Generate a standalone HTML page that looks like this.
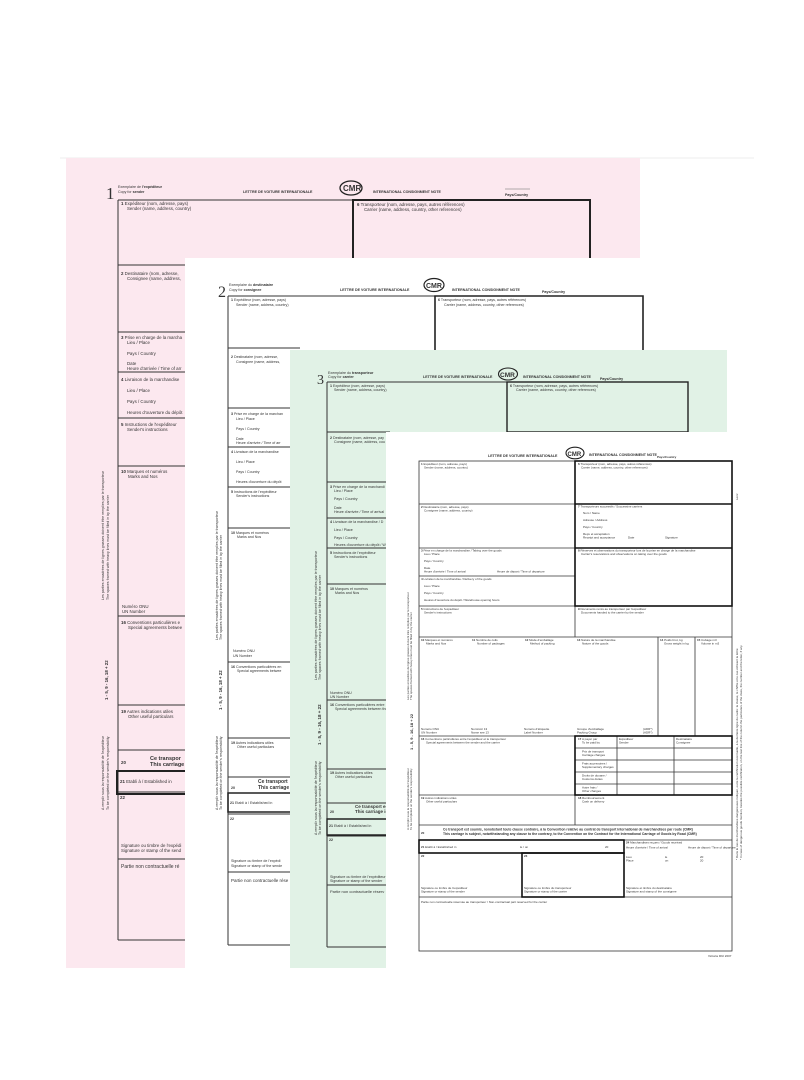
<!DOCTYPE html>
<html><head><meta charset="utf-8"><style>
html,body{margin:0;padding:0;background:#fff}
svg{display:block}
text{font-family:"Liberation Sans",sans-serif;fill:#333}
.s{font-size:3.6px}
.m{font-size:4.4px}
.b{font-weight:bold}
</style></head><body>
<svg width="804" height="1080" viewBox="0 0 804 1080" xmlns="http://www.w3.org/2000/svg">
<line x1="60" y1="158" x2="754" y2="158" stroke="#eeeeee" stroke-width="1"/>
<!-- SHEET 1 pink -->
<rect x="66" y="158" width="574" height="810" fill="#fce8ef"/>
<g stroke="#333" fill="none" stroke-width="1">
<line x1="118" y1="200" x2="118" y2="940"/>
<line x1="118" y1="200" x2="353" y2="200"/>
<line x1="118" y1="265" x2="200" y2="265"/>
<line x1="118" y1="332" x2="200" y2="332"/>
<line x1="118" y1="372" x2="200" y2="372"/>
<line x1="118" y1="418" x2="200" y2="418"/>
<line x1="118" y1="466" x2="200" y2="466"/>
<line x1="118" y1="616" x2="200" y2="616"/>
<line x1="118" y1="705" x2="200" y2="705"/>
<line x1="118" y1="750" x2="200" y2="750"/>
<line x1="118" y1="792" x2="200" y2="792"/>
<line x1="118" y1="859" x2="200" y2="859"/>
<line x1="118" y1="940" x2="200" y2="940"/>
</g>
<g stroke="#222" fill="none" stroke-width="2">
<polyline points="353,258 353,200 590,200 590,258"/>
<polyline points="200,771 117,771 117,794 200,794"/>
</g>
<text x="106" y="199" style="font-family:'Liberation Serif',serif;font-size:17px">1</text>
<text x="118" y="188" class="s">Exemplaire de <tspan class="b">l'expéditeur</tspan></text>
<text x="118" y="193" class="s">Copy for <tspan class="b">sender</tspan></text>
<text x="243" y="193" class="s b">LETTRE DE VOITURE INTERNATIONALE</text>
<ellipse cx="351" cy="188" rx="11" ry="7" fill="none" stroke="#222" stroke-width="1.3"/>
<text x="343" y="191" style="font-size:8px;font-weight:bold">CMR</text>
<text x="373" y="193" class="s b">INTERNATIONAL CONSIGNMENT NOTE</text>
<text x="505" y="196" class="s b">Pays/Country</text>
<line x1="505" y1="189" x2="530" y2="189" stroke="#666" stroke-width="0.5"/>
<text x="121" y="205" class="m"><tspan class="b">1</tspan> Expéditeur (nom, adresse, pays)</text><text x="127" y="210" class="m">Sender (name, address, country)</text>
<text x="357" y="206" class="m"><tspan class="b">6</tspan> Transporteur (nom, adresse, pays, autres références)</text><text x="364" y="211" class="m">Carrier (name, address, country, other references)</text>
<text x="121" y="275" class="m"><tspan class="b">2</tspan> Destinataire (nom, adresse,</text><text x="127" y="280" class="m">Consignee (name, address,</text>
<text x="121" y="339" class="m"><tspan class="b">3</tspan> Prise en charge de la marcha</text><text x="127" y="344" class="m">Lieu / Place</text>
<text x="127" y="355" class="m">Pays / Country</text><text x="127" y="365" class="m">Date</text><text x="127" y="370" class="m">Heure d'arrivée / Time of arr</text>
<text x="121" y="381" class="m"><tspan class="b">4</tspan> Livraison de la marchandise</text>
<text x="127" y="392" class="m">Lieu / Place</text><text x="127" y="403" class="m">Pays / Country</text><text x="127" y="414" class="m">Heures d'ouverture du dépôt</text>
<text x="121" y="426" class="m"><tspan class="b">5</tspan> Instructions de l'expéditeur</text><text x="127" y="431" class="m">Sender's instructions</text>
<text x="121" y="473" class="m"><tspan class="b">10</tspan> Marques et numéros</text><text x="128" y="478" class="m">Marks and Nos</text>
<text x="122" y="608" class="m">Numéro ONU</text><text x="122" y="613" class="m">UN Number</text>
<text x="121" y="624" class="m"><tspan class="b">16</tspan> Conventions particulières e</text><text x="128" y="629" class="m">Special agreements betwee</text>
<text x="121" y="713" class="m"><tspan class="b">19</tspan> Autres indications utiles</text><text x="128" y="718" class="m">Other useful particulars</text>
<text x="121" y="764" class="m b">20</text><text x="150" y="760" style="font-size:5.5px;font-weight:bold">Ce transpor</text><text x="150" y="766" style="font-size:5.5px;font-weight:bold">This carriage</text>
<text x="120" y="783" class="m"><tspan class="b">21</tspan> Etabli à / Established in</text>
<text x="120" y="799" class="m b">22</text>
<text x="121" y="847" class="m">Signature ou timbre de l'expédi</text><text x="121" y="852" class="m">Signature or stamp of the send</text>
<text x="121" y="868" style="font-size:5px">Partie non contractuelle ré</text>
<text transform="translate(108,700) rotate(-90)" class="m b">1 - 5, 9 - 16, 18 + 22</text>
<text transform="translate(104,810) rotate(-90)" class="s">A remplir sous la responsabilité de l'expéditeur</text>
<text transform="translate(109,810) rotate(-90)" class="s">To be completed on the sender's responsibility</text>
<text transform="translate(104,600) rotate(-90)" class="s">Les parties encadrées de lignes grasses doivent être remplies par le transporteur</text>
<text transform="translate(109,600) rotate(-90)" class="s">The spaces framed with heavy lines must be filled in by the carrier</text>

<!-- SHEET 2 white -->
<rect x="185" y="258" width="475" height="710" fill="#ffffff"/>
<g stroke="#333" fill="none" stroke-width="1">
<line x1="228" y1="296" x2="228" y2="945"/>
<line x1="228" y1="296" x2="435" y2="296"/>
<line x1="228" y1="348" x2="300" y2="348"/>
<line x1="228" y1="408" x2="300" y2="408"/>
<line x1="228" y1="447" x2="300" y2="447"/>
<line x1="228" y1="487" x2="300" y2="487"/>
<line x1="228" y1="528" x2="300" y2="528"/>
<line x1="228" y1="662" x2="300" y2="662"/>
<line x1="228" y1="738" x2="300" y2="738"/>
<line x1="228" y1="777" x2="300" y2="777"/>
<line x1="228" y1="814" x2="300" y2="814"/>
<line x1="228" y1="872" x2="300" y2="872"/>
<line x1="228" y1="945" x2="300" y2="945"/>
</g>
<g stroke="#222" fill="none" stroke-width="1.6">
<polyline points="435,350 435,296 643,296 643,350"/>
<polyline points="300,793 228,793 228,812 300,812"/>
</g>
<text x="218" y="297" style="font-family:'Liberation Serif',serif;font-size:16px">2</text>
<text x="229" y="286" class="s">Exemplaire du <tspan class="b">destinataire</tspan></text>
<text x="229" y="291" class="s">Copy for <tspan class="b">consignee</tspan></text>
<text x="340" y="291" class="s b">LETTRE DE VOITURE INTERNATIONALE</text>
<ellipse cx="434" cy="285" rx="10" ry="6.5" fill="none" stroke="#222" stroke-width="1.2"/>
<text x="426" y="288" style="font-size:7px;font-weight:bold">CMR</text>
<text x="452" y="291" class="s b">INTERNATIONAL CONSIGNMENT NOTE</text>
<text x="542" y="293" class="s b">Pays/Country</text>
<text x="231" y="301" class="s"><tspan class="b">1</tspan> Expéditeur (nom, adresse, pays)</text><text x="236" y="306" class="s">Sender (name, address, country)</text>
<text x="438" y="301" class="s"><tspan class="b">6</tspan> Transporteur (nom, adresse, pays, autres références)</text><text x="444" y="306" class="s">Carrier (name, address, country, other references)</text>
<text x="231" y="358" class="s"><tspan class="b">2</tspan> Destinataire (nom, adresse,</text><text x="236" y="363" class="s">Consignee (name, address,</text>
<text x="231" y="415" class="s"><tspan class="b">3</tspan> Prise en charge de la marchan</text><text x="236" y="420" class="s">Lieu / Place</text>
<text x="236" y="430" class="s">Pays / Country</text><text x="236" y="440" class="s">Date</text><text x="236" y="444" class="s">Heure d'arrivée / Time of arr</text>
<text x="231" y="453" class="s"><tspan class="b">4</tspan> Livraison de la marchandise</text>
<text x="236" y="463" class="s">Lieu / Place</text><text x="236" y="473" class="s">Pays / Country</text><text x="236" y="483" class="s">Heures d'ouverture du dépôt</text>
<text x="231" y="493" class="s"><tspan class="b">5</tspan> Instructions de l'expéditeur</text><text x="236" y="497" class="s">Sender's instructions</text>
<text x="231" y="534" class="s"><tspan class="b">10</tspan> Marques et numéros</text><text x="237" y="538" class="s">Marks and Nos</text>
<text x="233" y="652" class="s">Numéro ONU</text><text x="233" y="657" class="s">UN Number</text>
<text x="231" y="668" class="s"><tspan class="b">16</tspan> Conventions particulières en</text><text x="237" y="672" class="s">Special agreements betwee</text>
<text x="231" y="744" class="s"><tspan class="b">19</tspan> Autres indications utiles</text><text x="237" y="748" class="s">Other useful particulars</text>
<text x="231" y="789" class="s b">20</text><text x="258" y="783" style="font-size:5px;font-weight:bold">Ce transport</text><text x="258" y="789" style="font-size:5px;font-weight:bold">This carriage</text>
<text x="230" y="804" class="s"><tspan class="b">21</tspan> Etabli à / Established in</text>
<text x="230" y="820" class="s b">22</text>
<text x="231" y="862" class="s">Signature ou timbre de l'expédi</text><text x="231" y="867" class="s">Signature or stamp of the sende</text>
<text x="231" y="882" style="font-size:4.5px">Partie non contractuelle rése</text>
<text transform="translate(222,710) rotate(-90)" class="m b">1 - 5, 9 - 16, 18 + 22</text>
<text transform="translate(218,810) rotate(-90)" class="s">A remplir sous la responsabilité de l'expéditeur</text>
<text transform="translate(222,810) rotate(-90)" class="s">To be completed on the sender's responsibility</text>
<text transform="translate(218,640) rotate(-90)" class="s">Les parties encadrées de lignes grasses doivent être remplies par le transporteur</text>
<text transform="translate(222,640) rotate(-90)" class="s">The spaces framed with heavy lines must be filled in by the carrier</text>

<!-- SHEET 3 green -->
<rect x="290" y="350" width="437" height="618" fill="#e1f2e6"/>
<g stroke="#333" fill="none" stroke-width="1">
<line x1="327" y1="382" x2="327" y2="947"/>
<line x1="327" y1="382" x2="507" y2="382"/>
<line x1="327" y1="432" x2="390" y2="432"/>
<line x1="327" y1="482" x2="390" y2="482"/>
<line x1="327" y1="518" x2="390" y2="518"/>
<line x1="327" y1="548" x2="390" y2="548"/>
<line x1="327" y1="584" x2="390" y2="584"/>
<line x1="327" y1="700" x2="390" y2="700"/>
<line x1="327" y1="769" x2="390" y2="769"/>
<line x1="327" y1="803" x2="390" y2="803"/>
<line x1="327" y1="836" x2="390" y2="836"/>
<line x1="327" y1="885" x2="390" y2="885"/>
<line x1="327" y1="947" x2="390" y2="947"/>
</g>
<g stroke="#222" fill="none" stroke-width="1.4">
<rect x="507" y="382" width="181" height="50"/>
<polyline points="390,819 327,819 327,835 390,835"/>
</g>
<text x="317" y="384" style="font-family:'Liberation Serif',serif;font-size:14px">3</text>
<text x="328" y="374" class="s">Exemplaire du <tspan class="b">transporteur</tspan></text>
<text x="328" y="378" class="s">Copy for <tspan class="b">carrier</tspan></text>
<text x="423" y="378" class="s b">LETTRE DE VOITURE INTERNATIONALE</text>
<ellipse cx="508" cy="374" rx="9.5" ry="6" fill="none" stroke="#222" stroke-width="1.1"/>
<text x="500" y="377" style="font-size:6.5px;font-weight:bold">CMR</text>
<text x="523" y="378" class="s b">INTERNATIONAL CONSIGNMENT NOTE</text>
<text x="600" y="380" class="s b">Pays/Country</text>
<text x="330" y="387" class="s"><tspan class="b">1</tspan> Expéditeur (nom, adresse, pays)</text><text x="334" y="391" class="s">Sender (name, address, country)</text>
<text x="510" y="387" class="s"><tspan class="b">6</tspan> Transporteur (nom, adresse, pays, autres références)</text><text x="516" y="391" class="s">Carrier (name, address, country, other references)</text>
<text x="330" y="439" class="s"><tspan class="b">2</tspan> Destinataire (nom, adresse, pay</text><text x="334" y="443" class="s">Consignee (name, address, cou</text>
<text x="330" y="488" class="s"><tspan class="b">3</tspan> Prise en charge de la marchandi</text><text x="334" y="492" class="s">Lieu / Place</text>
<text x="334" y="500" class="s">Pays / Country</text><text x="334" y="509" class="s">Date</text><text x="334" y="513" class="s">Heure d'arrivée / Time of arrival</text>
<text x="330" y="523" class="s"><tspan class="b">4</tspan> Livraison de la marchandise / D</text>
<text x="334" y="531" class="s">Lieu / Place</text><text x="334" y="539" class="s">Pays / Country</text><text x="334" y="546" class="s">Heures d'ouverture du dépôt / W</text>
<text x="330" y="554" class="s"><tspan class="b">5</tspan> Instructions de l'expéditeur</text><text x="334" y="558" class="s">Sender's instructions</text>
<text x="330" y="590" class="s"><tspan class="b">10</tspan> Marques et numéros</text><text x="335" y="594" class="s">Marks and Nos</text>
<text x="330" y="694" class="s">Numéro ONU</text><text x="330" y="698" class="s">UN Number</text>
<text x="330" y="706" class="s"><tspan class="b">16</tspan> Conventions particulières entre</text><text x="335" y="710" class="s">Special agreements between the</text>
<text x="330" y="774" class="s"><tspan class="b">19</tspan> Autres indications utiles</text><text x="335" y="778" class="s">Other useful particulars</text>
<text x="330" y="813" class="s b">20</text><text x="355" y="808" style="font-size:4.5px;font-weight:bold">Ce transport es</text><text x="355" y="813" style="font-size:4.5px;font-weight:bold">This carriage is</text>
<text x="329" y="827" class="s"><tspan class="b">21</tspan> Etabli à / Established in</text>
<text x="329" y="841" class="s b">22</text>
<text x="330" y="878" class="s">Signature ou timbre de l'expéditeur</text><text x="330" y="882" class="s">Signature or stamp of the sender</text>
<text x="330" y="893" style="font-size:4px">Partie non contractuelle réserv</text>
<text transform="translate(321,745) rotate(-90)" class="s b" style="font-size:4.5px">1 - 5, 9 - 16, 18 + 22</text>
<text transform="translate(317,835) rotate(-90)" class="s">A remplir sous la responsabilité de l'expéditeur</text>
<text transform="translate(321,835) rotate(-90)" class="s">To be completed on the sender's responsibility</text>
<text transform="translate(317,680) rotate(-90)" class="s">Les parties encadrées de lignes grasses doivent être remplies par le transporteur</text>
<text transform="translate(321,680) rotate(-90)" class="s">The spaces framed with heavy lines must be filled in by the carrier</text>

<!-- SHEET 4 white -->
<rect x="386" y="432" width="360" height="536" fill="#ffffff"/>
<g stroke="#333" fill="none" stroke-width="0.8">
<rect x="419" y="461" width="313" height="490"/>
<line x1="575" y1="461" x2="575" y2="637"/>
<line x1="419" y1="504" x2="575" y2="504"/>
<line x1="419" y1="548" x2="575" y2="548"/>
<line x1="419" y1="576" x2="575" y2="576"/>
<line x1="419" y1="606" x2="732" y2="606"/>
<line x1="419" y1="637" x2="732" y2="637"/>
<line x1="658" y1="637" x2="658" y2="736"/>
<line x1="695" y1="637" x2="695" y2="736"/>
<line x1="419" y1="736" x2="732" y2="736"/>
<line x1="575" y1="736" x2="575" y2="825"/>
<line x1="419" y1="795" x2="732" y2="795"/>
<line x1="419" y1="825" x2="732" y2="825"/>
<line x1="419" y1="840" x2="732" y2="840"/>
<line x1="624" y1="840" x2="624" y2="897"/>
<line x1="419" y1="897" x2="732" y2="897"/>
<line x1="617" y1="736" x2="617" y2="795"/>
<line x1="674" y1="736" x2="674" y2="795"/>
<line x1="575" y1="748" x2="732" y2="748"/>
<line x1="575" y1="760" x2="732" y2="760"/>
<line x1="575" y1="772" x2="732" y2="772"/>
<line x1="575" y1="784" x2="732" y2="784"/>
</g>
<g stroke="#111" fill="none" stroke-width="1.6">
<rect x="575" y="461" width="157" height="145"/>
<line x1="575" y1="504" x2="732" y2="504"/>
<line x1="575" y1="548" x2="732" y2="548"/>
<rect x="575" y="736" width="157" height="59"/>
<rect x="419" y="840" width="205" height="13"/>
<rect x="522" y="853" width="102" height="44"/>
</g>
<text x="488" y="457" class="s b">LETTRE DE VOITURE INTERNATIONALE</text>
<ellipse cx="575" cy="453" rx="9" ry="5.8" fill="none" stroke="#222" stroke-width="1.1"/>
<text x="567.5" y="456" style="font-size:6px;font-weight:bold">CMR</text>
<text x="589" y="456" class="s b">INTERNATIONAL CONSIGNMENT NOTE</text>
<text x="657" y="458" style="font-size:3px;font-weight:bold">Pays/Country</text>
<g style="font-size:3px">
<text x="421" y="465"><tspan font-weight="bold">1</tspan> Expéditeur (nom, adresse, pays)</text><text x="424" y="468.5">Sender (name, address, country)</text>
<text x="578" y="465"><tspan font-weight="bold">6</tspan> Transporteur (nom, adresse, pays, autres références)</text><text x="581" y="468.5">Carrier (name, address, country, other references)</text>
<text x="421" y="508"><tspan font-weight="bold">2</tspan> Destinataire (nom, adresse, pays)</text><text x="424" y="511.5">Consignee (name, address, country)</text>
<text x="578" y="507.5"><tspan font-weight="bold">7</tspan> Transporteurs successifs / Successive carriers</text>
<text x="583" y="514">Nom / Name</text><text x="583" y="521">Adresse / Address</text><text x="583" y="528">Pays / Country</text>
<text x="583" y="535">Reçu et acceptation</text><text x="583" y="538.5">Receipt and acceptance</text><text x="628" y="538.5">Date</text><text x="665" y="538.5">Signature</text>
<text x="421" y="551.5"><tspan font-weight="bold">3</tspan> Prise en charge de la marchandise / Taking over the goods</text><text x="424" y="555">Lieu / Place</text>
<text x="424" y="562">Pays / Country</text><text x="424" y="569">Date</text><text x="424" y="572.5">Heure d'arrivée / Time of arrival</text><text x="497" y="572.5">Heure de départ / Time of departure</text>
<text x="578" y="551.5"><tspan font-weight="bold">8</tspan> Réserves et observations du transporteur lors de la prise en charge de la marchandise</text><text x="581" y="555">Carrier's reservations and observations on taking over the goods</text>
<text x="421" y="580"><tspan font-weight="bold">4</tspan> Livraison de la marchandise / Delivery of the goods</text>
<text x="424" y="587">Lieu / Place</text><text x="424" y="594">Pays / Country</text><text x="424" y="601">Heures d'ouverture du dépôt / Warehouse opening hours</text>
<text x="421" y="610"><tspan font-weight="bold">5</tspan> Instructions de l'expéditeur</text><text x="424" y="613.5">Sender's instructions</text>
<text x="578" y="610"><tspan font-weight="bold">9</tspan> Documents remis au transporteur par l'expéditeur</text><text x="581" y="613.5">Documents handed to the carrier by the sender</text>
<text x="421" y="641"><tspan font-weight="bold">10</tspan> Marques et numéros</text><text x="426" y="644.5">Marks and Nos</text>
<text x="472" y="641"><tspan font-weight="bold">11</tspan> Nombre de colis</text><text x="477" y="644.5">Number of packages</text>
<text x="525" y="641"><tspan font-weight="bold">12</tspan> Mode d'emballage</text><text x="530" y="644.5">Method of packing</text>
<text x="577" y="641"><tspan font-weight="bold">13</tspan> Nature de la marchandise</text><text x="582" y="644.5">Nature of the goods</text>
<text x="660" y="641"><tspan font-weight="bold">14</tspan> Poids brut, kg</text><text x="664" y="644.5">Gross weight in kg</text>
<text x="697" y="641"><tspan font-weight="bold">15</tspan> Cubage m3</text><text x="701" y="644.5">Volume in m3</text>
<text x="421" y="730">Numéro ONU</text><text x="421" y="733.5">UN Number</text>
<text x="471" y="730">Nom/voir  13</text><text x="471" y="733.5">Name see  13</text>
<text x="524" y="730">Numéro d'étiquette</text><text x="524" y="733.5">Label Number</text>
<text x="577" y="730">Groupe d'emballage</text><text x="577" y="733.5">Packing Group</text>
<text x="643" y="730">(ADR*)</text><text x="643" y="733.5">(ADR*)</text>
<text x="421" y="740"><tspan font-weight="bold">16</tspan> Conventions particulières entre l'expéditeur et le transporteur</text><text x="426" y="743.5">Special agreements between the sender and the carrier</text>
<text x="578" y="740"><tspan font-weight="bold">17</tspan> A payer par</text><text x="582" y="743.5">To be paid by</text>
<text x="619" y="740">Expéditeur</text><text x="619" y="743.5">Sender</text>
<text x="676" y="740">Destinataire</text><text x="676" y="743.5">Consignee</text>
<text x="582" y="752.5">Prix de transport</text><text x="582" y="756">Carriage charges</text>
<text x="582" y="764.5">Frais accessoires /</text><text x="582" y="768">Supplementary charges</text>
<text x="582" y="776.5">Droits de douane /</text><text x="582" y="780">Customs duties</text>
<text x="582" y="788.5">Autre frais /</text><text x="582" y="792">Other charges</text>
<text x="421" y="799"><tspan font-weight="bold">19</tspan> Autres indications utiles</text><text x="426" y="802.5">Other useful particulars</text>
<text x="578" y="799"><tspan font-weight="bold">18</tspan> Remboursement</text><text x="582" y="802.5">Cash on delivery</text>
<text x="421" y="834" font-weight="bold">20</text>
<text x="443" y="830.5" font-weight="bold" style="font-size:3.4px">Ce transport est soumis, nonobstant toute clause contraire, à la Convention relative au contrat de transport international de marchandises par route (CMR)</text>
<text x="443" y="835" font-weight="bold" style="font-size:3.4px">This carriage is subject, notwithstanding any clause to the contrary, to the Convention on the Contract for the International Carriage of Goods by Road (CMR)</text>
<text x="421" y="848"><tspan font-weight="bold">21</tspan> Etabli à / Established in</text><text x="520" y="848">le / on</text><text x="605" y="848">20</text>
<text x="626" y="843.5"><tspan font-weight="bold">24</tspan> Marchandises reçues / Goods received</text>
<text x="626" y="848.5">Heure d'arrivée / Time of arrival</text><text x="688" y="848.5">Heure de départ / Time of departure</text>
<text x="626" y="858">Lieu</text><text x="626" y="861.5">Place</text><text x="665" y="858">le</text><text x="665" y="861.5">on</text><text x="700" y="858">20</text><text x="700" y="861.5">20</text>
<text x="421" y="857" font-weight="bold">22</text><text x="524" y="857" font-weight="bold">23</text>
<text x="421" y="889">Signature ou timbre de l'expéditeur</text><text x="421" y="892.5">Signature or stamp of the sender</text>
<text x="524" y="889">Signature ou timbre du transporteur</text><text x="524" y="892.5">Signature or stamp of the carrier</text>
<text x="626" y="889">Signature et timbre du destinataire</text><text x="626" y="892.5">Signature and stamp of the consignee</text>
<text x="421" y="903">Partie non contractuelle réservée au transporteur / Non-contractual part reserved for the carrier</text>
<text x="708" y="957">Victoria IRU 2007</text>
</g>
<text transform="translate(413,750) rotate(-90)" style="font-size:4px;font-weight:bold">1 - 5, 9 - 16, 18 + 22</text>
<text transform="translate(409,830) rotate(-90)" style="font-size:3px">A remplir sous la responsabilité de l'expéditeur</text>
<text transform="translate(412,830) rotate(-90)" style="font-size:3px">To be completed on the sender's responsibility</text>
<text transform="translate(409,700) rotate(-90)" style="font-size:3px">Les parties encadrées de lignes grasses doivent être remplies par le transporteur</text>
<text transform="translate(412,700) rotate(-90)" style="font-size:3px">The spaces framed with heavy lines must be filled in by the carrier</text>
<text transform="translate(738,860) rotate(-90)" style="font-size:3px">* Dans le cas de marchandises dangereuses indiquer, outre la certification éventuelle, à la dernière ligne du cadre: la classe, le chiffre et le cas échéant la lettre</text>
<text transform="translate(742,860) rotate(-90)" style="font-size:3px">* In case of dangerous goods mention, besides the possible certification, on the last line of the column the particulars of the class, the number and the letter, if any</text>
<text transform="translate(738,500) rotate(-90)" style="font-size:3px">Lenz</text>
</svg>
</body></html>
